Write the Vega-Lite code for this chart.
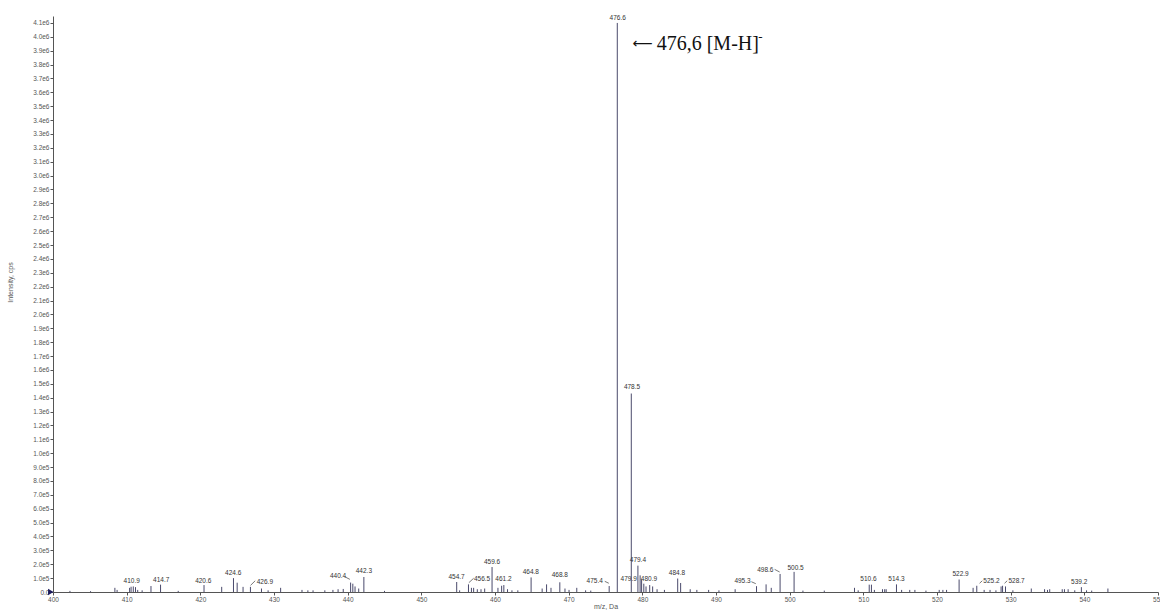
{
  "$schema": "https://vega.github.io/schema/vega-lite/v6.json",
  "width": 1105,
  "height": 576,
  "autosize": {"type": "none"},
  "padding": {"left": 53, "top": 16, "right": 2, "bottom": 18},
  "background": "white",
  "config": {"view": {"stroke": null}, "axis": {"grid": false}},
  "datasets": {
    "peaks": [
      {"mz": 402.3, "intensity": 8000}, {"mz": 405.1, "intensity": 6000},
      {"mz": 408.4, "intensity": 30000}, {"mz": 408.7, "intensity": 15000},
      {"mz": 410.4, "intensity": 30000}, {"mz": 410.6, "intensity": 38000},
      {"mz": 410.9, "intensity": 40000}, {"mz": 411.2, "intensity": 35000},
      {"mz": 411.5, "intensity": 15000}, {"mz": 412.1, "intensity": 12000},
      {"mz": 413.3, "intensity": 43000}, {"mz": 414.6, "intensity": 53000},
      {"mz": 417.0, "intensity": 8000}, {"mz": 420.5, "intensity": 50000},
      {"mz": 422.9, "intensity": 37000}, {"mz": 424.5, "intensity": 100000},
      {"mz": 425.0, "intensity": 67000}, {"mz": 425.8, "intensity": 37000},
      {"mz": 426.8, "intensity": 37000}, {"mz": 428.3, "intensity": 25000},
      {"mz": 429.2, "intensity": 12000}, {"mz": 430.9, "intensity": 30000},
      {"mz": 433.8, "intensity": 15000}, {"mz": 434.6, "intensity": 12000},
      {"mz": 435.3, "intensity": 12000}, {"mz": 436.9, "intensity": 12000},
      {"mz": 438.0, "intensity": 15000}, {"mz": 438.7, "intensity": 20000},
      {"mz": 439.4, "intensity": 22000}, {"mz": 440.4, "intensity": 68000},
      {"mz": 440.7, "intensity": 60000}, {"mz": 441.0, "intensity": 40000},
      {"mz": 441.5, "intensity": 25000}, {"mz": 442.2, "intensity": 108000},
      {"mz": 445.0, "intensity": 8000}, {"mz": 454.8, "intensity": 72000},
      {"mz": 455.2, "intensity": 12000}, {"mz": 456.4, "intensity": 55000},
      {"mz": 456.8, "intensity": 30000}, {"mz": 457.1, "intensity": 30000},
      {"mz": 457.6, "intensity": 20000}, {"mz": 458.1, "intensity": 20000},
      {"mz": 458.6, "intensity": 25000}, {"mz": 459.6, "intensity": 180000},
      {"mz": 460.4, "intensity": 30000}, {"mz": 460.9, "intensity": 45000},
      {"mz": 461.2, "intensity": 50000}, {"mz": 461.7, "intensity": 20000},
      {"mz": 462.3, "intensity": 12000}, {"mz": 463.1, "intensity": 12000},
      {"mz": 464.9, "intensity": 105000}, {"mz": 466.4, "intensity": 25000},
      {"mz": 467.0, "intensity": 55000}, {"mz": 467.6, "intensity": 30000},
      {"mz": 468.8, "intensity": 70000}, {"mz": 469.5, "intensity": 25000},
      {"mz": 470.05, "intensity": 15000}, {"mz": 471.1, "intensity": 30000},
      {"mz": 472.3, "intensity": 12000}, {"mz": 473.0, "intensity": 10000},
      {"mz": 475.5, "intensity": 43000}, {"mz": 476.6, "intensity": 4100000},
      {"mz": 478.5, "intensity": 1430000}, {"mz": 479.4, "intensity": 190000},
      {"mz": 479.7, "intensity": 120000}, {"mz": 479.9, "intensity": 90000},
      {"mz": 480.2, "intensity": 60000}, {"mz": 480.5, "intensity": 40000},
      {"mz": 481.0, "intensity": 50000}, {"mz": 481.4, "intensity": 40000},
      {"mz": 482.0, "intensity": 20000}, {"mz": 483.0, "intensity": 15000},
      {"mz": 484.8, "intensity": 97000}, {"mz": 485.2, "intensity": 65000},
      {"mz": 486.5, "intensity": 20000}, {"mz": 487.4, "intensity": 15000},
      {"mz": 489.0, "intensity": 15000}, {"mz": 490.4, "intensity": 12000},
      {"mz": 492.6, "intensity": 20000}, {"mz": 495.5, "intensity": 42000},
      {"mz": 496.8, "intensity": 55000}, {"mz": 497.5, "intensity": 30000},
      {"mz": 498.7, "intensity": 130000}, {"mz": 500.6, "intensity": 145000},
      {"mz": 501.8, "intensity": 10000}, {"mz": 504.7, "intensity": 10000},
      {"mz": 508.8, "intensity": 30000}, {"mz": 509.3, "intensity": 12000},
      {"mz": 510.8, "intensity": 53000}, {"mz": 511.1, "intensity": 53000},
      {"mz": 511.5, "intensity": 15000}, {"mz": 512.6, "intensity": 20000},
      {"mz": 512.9, "intensity": 20000}, {"mz": 513.1, "intensity": 20000},
      {"mz": 514.5, "intensity": 55000}, {"mz": 515.2, "intensity": 15000},
      {"mz": 516.3, "intensity": 15000}, {"mz": 517.0, "intensity": 15000},
      {"mz": 518.5, "intensity": 10000}, {"mz": 520.3, "intensity": 15000},
      {"mz": 520.8, "intensity": 15000}, {"mz": 521.3, "intensity": 15000},
      {"mz": 523.0, "intensity": 90000}, {"mz": 524.9, "intensity": 30000},
      {"mz": 525.4, "intensity": 45000}, {"mz": 526.4, "intensity": 15000},
      {"mz": 527.2, "intensity": 15000}, {"mz": 528.0, "intensity": 12000},
      {"mz": 528.7, "intensity": 40000}, {"mz": 528.9, "intensity": 45000},
      {"mz": 529.3, "intensity": 40000}, {"mz": 530.3, "intensity": 12000},
      {"mz": 532.8, "intensity": 25000}, {"mz": 534.6, "intensity": 20000},
      {"mz": 535.0, "intensity": 15000}, {"mz": 535.3, "intensity": 20000},
      {"mz": 537.0, "intensity": 20000}, {"mz": 537.3, "intensity": 20000},
      {"mz": 537.8, "intensity": 20000}, {"mz": 538.7, "intensity": 12000},
      {"mz": 539.6, "intensity": 35000}, {"mz": 540.3, "intensity": 12000},
      {"mz": 541.0, "intensity": 10000}, {"mz": 543.2, "intensity": 25000}
    ],
    "labels": [
      {"label": "410.9", "mz": 410.68, "intensity": 77000},
      {"label": "414.7", "mz": 414.69, "intensity": 86000},
      {"label": "420.6", "mz": 420.4, "intensity": 81000},
      {"label": "424.6", "mz": 424.46, "intensity": 135000},
      {"label": "426.9", "mz": 428.76, "intensity": 70000},
      {"label": "440.4", "mz": 438.7, "intensity": 117000},
      {"label": "442.3", "mz": 442.2, "intensity": 151000},
      {"label": "454.7", "mz": 454.78, "intensity": 110000},
      {"label": "456.5", "mz": 458.25, "intensity": 94000},
      {"label": "459.6", "mz": 459.6, "intensity": 218000},
      {"label": "461.2", "mz": 461.15, "intensity": 94000},
      {"label": "464.8", "mz": 464.86, "intensity": 144000},
      {"label": "468.8", "mz": 468.8, "intensity": 122000},
      {"label": "475.4", "mz": 473.54, "intensity": 81000},
      {"label": "476.6", "mz": 476.66, "intensity": 4137000},
      {"label": "478.5", "mz": 478.6, "intensity": 1477000},
      {"label": "479.4", "mz": 479.4, "intensity": 230000},
      {"label": "479.9", "mz": 478.15, "intensity": 96000},
      {"label": "480.9", "mz": 480.9, "intensity": 96000},
      {"label": "484.8", "mz": 484.7, "intensity": 139000},
      {"label": "495.3", "mz": 493.6, "intensity": 77000},
      {"label": "498.6", "mz": 496.7, "intensity": 158000},
      {"label": "500.5", "mz": 500.8, "intensity": 175000},
      {"label": "510.6", "mz": 510.7, "intensity": 94000},
      {"label": "514.3", "mz": 514.5, "intensity": 94000},
      {"label": "522.9", "mz": 523.2, "intensity": 127000},
      {"label": "525.2", "mz": 527.4, "intensity": 81000},
      {"label": "528.7", "mz": 530.8, "intensity": 81000},
      {"label": "539.2", "mz": 539.3, "intensity": 74000}
    ],
    "leaders": [
      {"mz": 426.82, "intensity": 48000, "mz2": 427.45, "intensity2": 81000},
      {"mz": 439.6, "intensity": 110000, "mz2": 440.3, "intensity2": 91000},
      {"mz": 456.45, "intensity": 67000, "mz2": 457.1, "intensity2": 99000},
      {"mz": 474.9, "intensity": 77000, "mz2": 475.45, "intensity2": 63000},
      {"mz": 494.8, "intensity": 74000, "mz2": 495.4, "intensity2": 60000},
      {"mz": 497.96, "intensity": 163000, "mz2": 498.64, "intensity2": 144000},
      {"mz": 525.78, "intensity": 63000, "mz2": 526.15, "intensity2": 81000},
      {"mz": 529.17, "intensity": 63000, "mz2": 529.53, "intensity2": 81000}
    ],
    "annotation": [
      {"part": "arrow", "text": "⟵", "mz": 478.7, "intensity": 3950000},
      {"part": "main", "text": "476,6 [M-H]", "mz": 481.95, "intensity": 3950000},
      {"part": "sup", "text": "-", "mz": 495.75, "intensity": 4000000}
    ],
    "cursor": [
      {"mz": 399.7, "intensity": 0}
    ]
  },
  "encoding": {
    "x": {
      "field": "mz", "type": "quantitative",
      "scale": {"domain": [400, 550], "nice": false, "zero": false},
      "axis": {
        "title": "m/z, Da",
        "values": [400, 410, 420, 430, 440, 450, 460, 470, 480, 490, 500, 510, 520, 530, 540, 550],
        "format": "d",
        "labelFont": "Liberation Sans", "labelFontSize": 6.5, "labelColor": "#555555",
        "labelPadding": 1, "labelFlush": false,
        "tickSize": 3, "tickColor": "#555555", "domainColor": "#555555",
        "titleFont": "Liberation Sans", "titleFontSize": 7, "titleFontWeight": "normal",
        "titleColor": "#555555", "titlePadding": 0
      }
    },
    "y": {
      "field": "intensity", "type": "quantitative",
      "scale": {"domain": [0, 4150000], "nice": false},
      "axis": {
        "title": "Intensity, cps",
        "values": [0, 100000, 200000, 300000, 400000, 500000, 600000, 700000, 800000, 900000, 1000000, 1100000, 1200000, 1300000, 1400000, 1500000, 1600000, 1700000, 1800000, 1900000, 2000000, 2100000, 2200000, 2300000, 2400000, 2500000, 2600000, 2700000, 2800000, 2900000, 3000000, 3100000, 3200000, 3300000, 3400000, 3500000, 3600000, 3700000, 3800000, 3900000, 4000000, 4100000],
        "labelExpr": "datum.value == 0 ? '0.0' : replace(format(datum.value, '.1e'), 'e+', 'e')",
        "labelFont": "Liberation Sans", "labelFontSize": 6.5, "labelColor": "#555555",
        "labelPadding": 1,
        "tickSize": 3, "tickColor": "#555555", "domainColor": "#555555",
        "titleFont": "Liberation Sans", "titleFontSize": 7, "titleFontWeight": "normal",
        "titleColor": "#555555", "titlePadding": 19, "titleY": 266
      }
    }
  },
  "layer": [
    {
      "data": {"name": "peaks"},
      "mark": {"type": "rule", "color": "#4a4a6c", "strokeWidth": 1},
      "encoding": {"y2": {"datum": 0}}
    },
    {
      "data": {"name": "labels"},
      "mark": {"type": "text", "font": "Liberation Sans", "fontSize": 6.5, "color": "#333333", "baseline": "middle", "align": "center"},
      "encoding": {"text": {"field": "label", "type": "nominal"}}
    },
    {
      "data": {"name": "leaders"},
      "mark": {"type": "rule", "color": "#555555", "strokeWidth": 0.8},
      "encoding": {"x2": {"field": "mz2"}, "y2": {"field": "intensity2"}}
    },
    {
      "data": {"name": "cursor"},
      "mark": {"type": "point", "shape": "triangle-right", "filled": true, "color": "#1a1a5c", "size": 40, "opacity": 1, "clip": false}
    },
    {
      "data": {"name": "annotation"},
      "transform": [{"filter": "datum.part == 'arrow'"}],
      "mark": {"type": "text", "font": "DejaVu Sans", "fontSize": 14, "color": "#111111", "align": "left", "baseline": "middle"},
      "encoding": {"text": {"field": "text", "type": "nominal"}}
    },
    {
      "data": {"name": "annotation"},
      "transform": [{"filter": "datum.part == 'main'"}],
      "mark": {"type": "text", "font": "Liberation Serif", "fontSize": 20, "color": "#111111", "align": "left", "baseline": "middle"},
      "encoding": {"text": {"field": "text", "type": "nominal"}}
    },
    {
      "data": {"name": "annotation"},
      "transform": [{"filter": "datum.part == 'sup'"}],
      "mark": {"type": "text", "font": "Liberation Serif", "fontSize": 13, "color": "#111111", "align": "left", "baseline": "middle"},
      "encoding": {"text": {"field": "text", "type": "nominal"}}
    }
  ]
}
